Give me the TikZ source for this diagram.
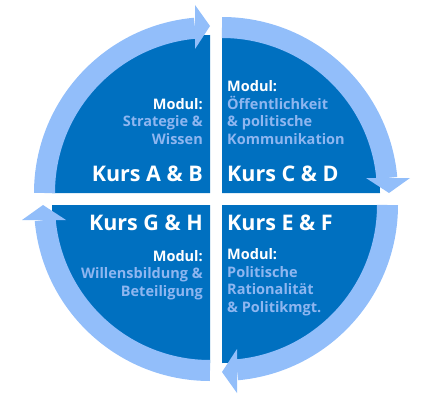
\documentclass[tikz,border=0pt]{standalone}
\usepackage{fontspec}
\setmainfont{Open Sans}
\definecolor{kursblau}{RGB}{0,112,192}
\definecolor{ringblau}{RGB}{146,190,250}
\definecolor{modulblau}{RGB}{142,182,240}
\begin{document}
\begin{tikzpicture}[x=1pt,y=1pt]
\tikzstyle{kurs}=[text=white,font=\fontsize{21.5}{24}\selectfont\bfseries,inner sep=0pt];
\tikzstyle{modul}=[text=modulblau,font=\fontsize{14.5}{17.5}\selectfont\bfseries,inner sep=0pt];
\useasboundingbox (0,0) rectangle (431,400);
\foreach \cx/\cy/\rot in {210/207/0,222/207/-90,222/195/-180,210/195/-270}
{
	\begin{scope}[shift={(\cx,\cy)},rotate=\rot]
	\fill[kursblau] (0,0) -- (180:158) arc (180:90:158) -- cycle;
	\draw[ringblau,line width=21pt] (180:165.5) arc (180:95.2:165.5);
	\fill[ringblau] (-15,144) -- (0,167) -- (-15,188) -- cycle;
	\end{scope}
}
\node[kurs,anchor=base east] (kursab) at (203,219) {Kurs A \& B};
\node[kurs,anchor=base west] (kurscd) at (227,219) {Kurs C \& D};
\node[kurs,anchor=base west] (kursef) at (227,170) {Kurs E \& F};
\node[kurs,anchor=base east] (kursgh) at (203,170) {Kurs G \& H};
\node[modul,align=right,anchor=base east] (modulab) at (203,256)
	{\textcolor{white}{Modul:}\\Strategie \&\\Wissen};
\node[modul,align=left,anchor=base west] (modulcd) at (227,256)
	{\textcolor{white}{Modul:}\\Öffentlichkeit\\\& politische\\Kommunikation};
\node[modul,align=left,anchor=base west] (modulef) at (227,88)
	{\textcolor{white}{Modul:}\\Politische\\Rationalität\\\& Politikmgt.};
\node[modul,align=right,anchor=base east] (modulgh) at (203,104)
	{\textcolor{white}{Modul:}\\Willensbildung \&\\Beteiligung};
\end{tikzpicture}
\end{document}
